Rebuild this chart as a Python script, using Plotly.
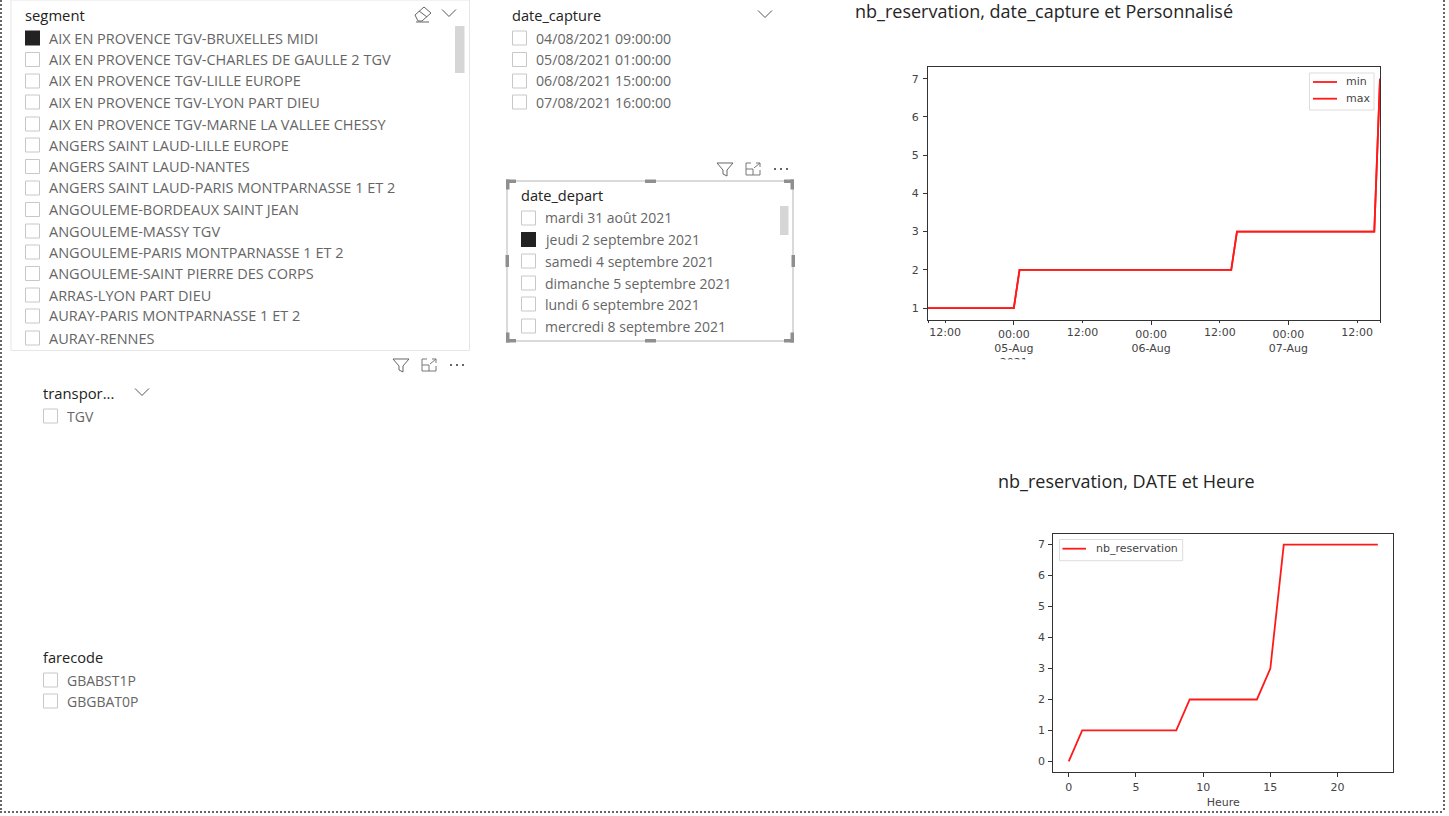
import plotly.graph_objects as go

W = 1449
H = 816

# slicer contents
segments = ['AIX EN PROVENCE TGV-BRUXELLES MIDI',
            'AIX EN PROVENCE TGV-CHARLES DE GAULLE 2 TGV',
            'AIX EN PROVENCE TGV-LILLE EUROPE',
            'AIX EN PROVENCE TGV-LYON PART DIEU',
            'AIX EN PROVENCE TGV-MARNE LA VALLEE CHESSY',
            'ANGERS SAINT LAUD-LILLE EUROPE',
            'ANGERS SAINT LAUD-NANTES',
            'ANGERS SAINT LAUD-PARIS MONTPARNASSE 1 ET 2',
            'ANGOULEME-BORDEAUX SAINT JEAN',
            'ANGOULEME-MASSY TGV',
            'ANGOULEME-PARIS MONTPARNASSE 1 ET 2',
            'ANGOULEME-SAINT PIERRE DES CORPS',
            'ARRAS-LYON PART DIEU',
            'AURAY-PARIS MONTPARNASSE 1 ET 2',
            'AURAY-RENNES']
dates_capture = ['04/08/2021 09:00:00', '05/08/2021 01:00:00',
                 '06/08/2021 15:00:00', '07/08/2021 16:00:00']
dates_depart = ['mardi 31 août 2021', 'jeudi 2 septembre 2021',
                'samedi 4 septembre 2021', 'dimanche 5 septembre 2021',
                'lundi 6 septembre 2021', 'mercredi 8 septembre 2021']
transports = ['TGV']
farecodes = ['GBABST1P', 'GBGBAT0P']

# top chart
capture_times = ['2021-08-04 09:00', '2021-08-05 00:00', '2021-08-05 01:00',
                 '2021-08-06 14:00', '2021-08-06 15:00', '2021-08-07 15:00',
                 '2021-08-07 16:00']
resa_min = [1, 1, 2, 2, 3, 3, 7]
resa_max = [1, 1, 2, 2, 3, 3, 7]
major_ticks = ['2021-08-05 00:00', '2021-08-06 00:00', '2021-08-07 00:00']
major_labels = ['00:00<br>05-Aug<br>2021', '00:00<br>06-Aug', '00:00<br>07-Aug']
minor_ticks = ['2021-08-04 09:00', '2021-08-04 12:00', '2021-08-05 12:00',
               '2021-08-06 12:00', '2021-08-07 12:00', '2021-08-07 16:00']
minor_labels = ['', '12:00', '12:00', '12:00', '12:00', '']

# bottom chart
heures = list(range(24))
nb_reservation = [0, 1, 1, 1, 1, 1, 1, 1, 1, 2, 2, 2, 2, 2, 2, 3, 7, 7, 7, 7, 7, 7, 7, 7]


def px(x):
    return x / W


def py(y):
    return 1 - y / H


shapes = []
annotations = []
UI_FONT = 'Open Sans'
TICK_FONT = 'DejaVu Sans'
RED = '#ff1a1a'


def rect(x0, y0, x1, y1, fill='white', line=None, width=1, layer='below'):
    shapes.append(dict(type='rect', xref='paper', yref='paper', layer=layer,
                       x0=px(x0), x1=px(x1), y0=py(y0), y1=py(y1),
                       fillcolor=fill,
                       line=dict(color=line or fill, width=width if line else 0)))


def poly(points, color='#555555', width=1, close=False):
    path = 'M' + ' L'.join(f'{px(x):.5f},{py(y):.5f}' for x, y in points)
    if close:
        path += ' Z'
    shapes.append(dict(type='path', xref='paper', yref='paper', path=path,
                       line=dict(color=color, width=width)))


def label(x, y, text, size=14, color='#666666', anchor='left', family=UI_FONT):
    annotations.append(dict(x=px(x), y=py(y), xref='paper', yref='paper', text=text,
                            showarrow=False, xanchor=anchor, yanchor='middle',
                            xshift=0, borderpad=0, borderwidth=0,
                            font=dict(family=family, size=size, color=color)))


def chevron(x, y):
    poly([(x - 7, y - 3.5), (x, y + 3.5), (x + 7, y - 3.5)], '#555555')


def header_icons(x, y):
    # filter, focus mode, more options
    poly([(x - 8, y - 6), (x + 8, y - 6), (x + 2, y + 1), (x + 2, y + 7),
          (x - 2, y + 5), (x - 2, y + 1)], '#666666', close=True)
    x2 = x + 28
    poly([(x2 - 2, y - 6), (x2 - 7, y - 6), (x2 - 7, y + 6), (x2 + 7, y + 6), (x2 + 7, y + 1)], '#777777')
    poly([(x2 - 7, y), (x2, y), (x2, y + 6)], '#777777')
    poly([(x2 + 1, y - 1), (x2 + 7, y - 6)], '#777777')
    poly([(x2 + 3, y - 6), (x2 + 7, y - 6), (x2 + 7, y - 2)], '#777777')
    x3 = x + 56
    for dx in (-6, 0, 6):
        rect(x3 + dx - 1, y - 1, x3 + dx + 1, y + 1, fill='#666666')


def slicer_rows(items, rows_y, box_x, text_x, checked=None, size=14):
    for item, y in zip(items, rows_y):
        if item == checked:
            rect(box_x, y - 7.5, box_x + 15, y + 7.5, fill='#222222')
        else:
            rect(box_x + 0.5, y - 7, box_x + 14.5, y + 7, fill='white', line='#c8c8c8')
        label(text_x, y, item, size=size)


def mini_legend(x0, y0, x1, y1, names, rows_y, line_x0, line_x1, text_x):
    # matplotlib sized legend, tighter than what plotly's own legend can do
    rect(x0, y0, x1, y1, fill='white', line='#dddddd', layer='above')
    for name, y in zip(names, rows_y):
        poly([(line_x0, y), (line_x1, y)], RED, width=1.8)
        label(text_x, y, name, size=11, color='#444444', family=TICK_FONT)


# page border
dotted = dict(color='#666666', width=2, dash='2px,2px')
for x0, y0, x1, y1 in [(1, 0, 1, 812), (1444, 0, 1444, 812), (0, 812, 1444, 812)]:
    shapes.append(dict(type='line', xref='paper', yref='paper', x0=px(x0), x1=px(x1),
                       y0=py(y0), y1=py(y1), line=dotted))

# segment slicer
rect(11, 0, 469.5, 350.5, fill='white', line='#e6e6e6')
label(25, 15, 'segment', size=14.8, color='#222222')
segment_rows = [38, 59.5, 81, 102, 124, 145, 166.5, 188, 209.5, 231, 252, 273.5, 295, 316, 338]
slicer_rows(segments, segment_rows, 25, 49, checked=segments[0], size=14.5)
rect(455, 26, 464.5, 73, fill='#d6d6d6')
poly([(415, 15), (424, 7), (431, 13), (422, 21), (418, 21)], '#666666', close=True)
poly([(419, 11), (427, 17)], '#666666')
poly([(416, 22), (429, 22)], '#666666')
chevron(449, 13)

# date_capture slicer
label(512, 15, 'date_capture', size=14.6, color='#222222')
slicer_rows(dates_capture, [38, 59.5, 81, 102], 512, 536, size=14.2)
chevron(765, 14)

# date_depart slicer, selected visual with handles
rect(507, 181, 793, 341, fill='white', line='#b5b5b5')
for cx, cy, sx, sy in [(506, 179.5, 1, 1), (794, 179.5, -1, 1), (506, 342.5, 1, -1), (794, 342.5, -1, -1)]:
    rect(cx, cy, cx + sx * 10, cy + sy * 3.5, fill='#8f8f8f')
    rect(cx, cy, cx + sx * 3.5, cy + sy * 10, fill='#8f8f8f')
rect(645, 179.5, 656, 183, fill='#8f8f8f')
rect(645, 339, 656, 342.5, fill='#8f8f8f')
rect(505.5, 255, 509, 267, fill='#8f8f8f')
rect(791.5, 255, 795, 267, fill='#8f8f8f')
label(521, 195, 'date_depart', size=14.6, color='#222222')
slicer_rows(dates_depart, [218, 239.5, 261, 283, 304, 326], 521, 545, checked=dates_depart[1])
rect(780, 206, 788.5, 235, fill='#d6d6d6')
header_icons(725, 169)

# transport slicer
header_icons(401, 365)
label(43, 393, 'transpor...', size=14.8, color='#222222')
chevron(142, 392)
slicer_rows(transports, [416], 43, 67)

# farecode slicer
label(43, 657, 'farecode', size=14.6, color='#222222')
slicer_rows(farecodes, [680, 701], 43, 67)

# chart titles
label(855, 11, 'nb_reservation, date_capture et Personnalisé', size=18, color='#252525')
label(998, 481, 'nb_reservation, DATE et Heure', size=18, color='#252525')

# the year label is cut off by the image edge in the top chart
rect(985, 359.5, 1045, 374, fill='white', layer='above')

mini_legend(1309.5, 73, 1374, 110, ['min', 'max'], [82, 98.7], 1313, 1337, 1345.5)
mini_legend(1059.5, 539.5, 1182.7, 560.7, ['nb_reservation'], [548.7], 1062.5, 1086, 1096)

fig = go.Figure()
red = dict(color=RED, width=1.8)
fig.add_trace(go.Scatter(x=capture_times, y=resa_min, name='min', mode='lines', line=red,
                         xaxis='x', yaxis='y'))
fig.add_trace(go.Scatter(x=capture_times, y=resa_max, name='max', mode='lines', line=red,
                         xaxis='x3', yaxis='y'))
fig.add_trace(go.Scatter(x=heures, y=nb_reservation, name='nb_reservation', mode='lines', line=red,
                         xaxis='x2', yaxis='y2'))

tick_font = dict(family=TICK_FONT, size=11, color='#444444')
axis_style = dict(showgrid=False, zeroline=False, showline=True, linecolor='#333333', linewidth=1,
                  mirror=True, ticks='outside', tickcolor='#333333', tickfont=tick_font)
time_range = ['2021-08-04 09:00', '2021-08-07 16:00']

fig.update_layout(
    width=W,
    height=H,
    margin=dict(l=0, r=0, t=0, b=0),
    paper_bgcolor='white',
    plot_bgcolor='white',
    shapes=shapes,
    annotations=annotations,
    showlegend=False,
    xaxis=dict(domain=[px(928), px(1380)], range=time_range, type='date', anchor='y',
               tickmode='array', tickvals=major_ticks, ticktext=major_labels, ticklen=4,
               **axis_style),
    xaxis3=dict(domain=[px(928), px(1380)], range=time_range, type='date', anchor='y',
                overlaying='x', side='bottom', tickmode='array', tickvals=minor_ticks,
                ticktext=minor_labels, ticklen=2, **axis_style),
    yaxis=dict(domain=[py(319.5), py(67.3)], range=[0.7, 7.3], anchor='x',
               tickmode='array', tickvals=[1, 2, 3, 4, 5, 6, 7], ticklen=4,
               ticklabelstandoff=2, **axis_style),
    xaxis2=dict(domain=[px(1053.3), px(1393.3)], range=[-1.15, 24.15], anchor='y2',
                tickmode='array', tickvals=[0, 5, 10, 15, 20], ticklen=4,
                title=dict(text='Heure', standoff=5,
                           font=dict(family=TICK_FONT, size=11, color='#444444')),
                **axis_style),
    yaxis2=dict(domain=[py(772.3), py(533.7)], range=[-0.35, 7.35], anchor='x2',
                tickmode='array', tickvals=[0, 1, 2, 3, 4, 5, 6, 7], ticklen=4,
                ticklabelstandoff=1, **axis_style),
)

fig.write_html('out.html', config={'displayModeBar': False},
               post_script="document.body.style.margin='0';document.body.style.overflow='hidden';")
